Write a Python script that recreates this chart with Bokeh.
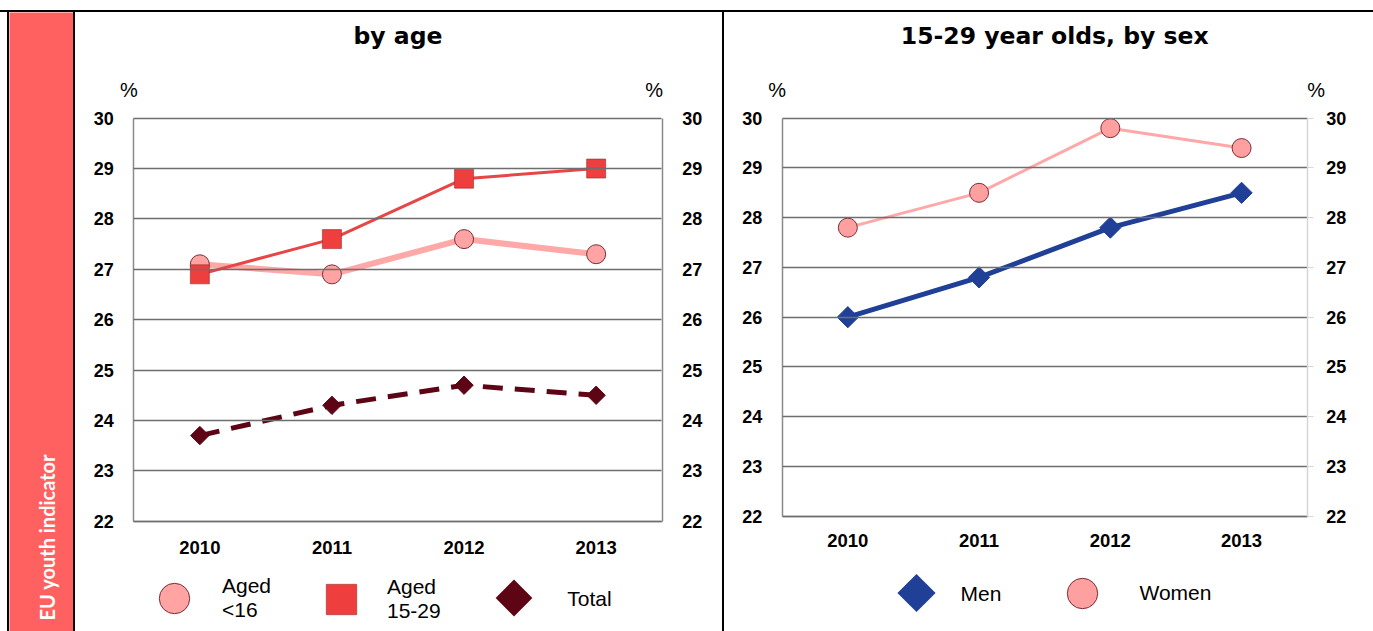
import math
from bokeh.plotting import figure
from bokeh.models import Range1d, LinearAxis, FixedTicker, Label, Legend, LegendItem, Spacer, Div
from bokeh.layouts import row, column
from bokeh.embed import file_html
from bokeh.resources import INLINE

# ---------------- data ----------------
years = ["2010", "2011", "2012", "2013"]
aged_under16 = [27.1, 26.9, 27.6, 27.3]
aged_15_29 = [26.9, 27.6, 28.8, 29.0]
total = [23.7, 24.3, 24.7, 24.5]
men = [26.0, 26.8, 27.8, 28.5]
women = [27.8, 28.5, 29.8, 29.4]
y_ticks = [22, 23, 24, 25, 26, 27, 28, 29, 30]
y_min, y_max = 22, 30
left_title = "by age"
right_title = "15-29 year olds, by sex"
side_text = "EU youth indicator"

xs = list(range(len(years)))
x_lo, x_hi = -0.5, len(years) - 0.5

TICK_FONT = "'Liberation Sans', Arial, sans-serif"
TEXT_FONT = "'Liberation Sans', Arial, sans-serif"
AXIS_GRAY = "#8a8a8a"
GRID_GRAY = "#6e6e6e"

PINK_LINE = "#FFA8A8"
PINK_FILL = "#FFA3A3"
RED = "#EE3E3E"
MAROON = "#5E0515"
BLUE = "#1F4096"
SIDE_RED = "#FF6060"

H = 619  # height of the panel row


def px_range(lo_val, hi_val, lo_px, hi_px, size_px):
    """Range whose lo_val/hi_val fall at lo_px/hi_px of a canvas size_px long."""
    scale = (hi_px - lo_px) / (hi_val - lo_val)
    return Range1d(lo_val - lo_px / scale, hi_val + (size_px - hi_px) / scale)


def px_to_data(box, cx, cy):
    """Canvas pixel (from top-left) -> data coordinates, for legend keys."""
    bl, br, bt, bb = box
    sx = (br - bl) / (x_hi - x_lo)
    sy = (bb - bt) / (y_max - y_min)
    return x_lo + (cx - bl) / sx, y_max - (cy - bt) / sy


def black_box(w, h):
    return Div(text="", width=w, height=h, margin=0, styles={"background-color": "black"})


def style_labels(ax, size):
    ax.major_label_text_font = TICK_FONT
    ax.major_label_text_font_style = "bold"
    ax.major_label_text_font_size = size
    ax.major_label_text_color = "black"
    ax.minor_tick_line_color = None


def make_panel(width, box, right_light):
    # box = (left px, right px, top px, bottom px) of the plotting box inside the canvas
    bl, br, bt, bb = box
    p = figure(width=width, height=H, output_backend="svg", toolbar_location=None,
               x_range=px_range(x_lo, x_hi, bl, br, width),
               y_range=px_range(y_min, y_max, H - bb, H - bt, H),
               min_border=0, background_fill_color="white", border_fill_color="white",
               outline_line_color=None)
    p.xgrid.visible = False
    p.ygrid.visible = False
    # x axis along y=22
    xa = p.xaxis[0]
    xa.fixed_location = y_min
    xa.bounds = (x_lo, x_hi)
    xa.ticker = FixedTicker(ticks=xs)
    xa.major_label_overrides = {i: y for i, y in zip(xs, years)}
    xa.major_tick_line_color = None
    xa.major_tick_out = 0
    xa.major_tick_in = 0
    xa.axis_line_color = AXIS_GRAY
    xa.axis_line_width = 1.5
    xa.major_label_standoff = 20 if not right_light else 18
    style_labels(xa, "18.5px")
    # left y axis; its inward ticks are the horizontal grid lines
    ya = p.yaxis[0]
    ya.fixed_location = x_lo
    ya.bounds = (y_min, y_max)
    ya.ticker = FixedTicker(ticks=y_ticks)
    ya.major_tick_out = 0
    ya.major_tick_in = int(round(br - bl))
    ya.major_tick_line_color = GRID_GRAY
    ya.major_tick_line_width = 1.4
    ya.axis_line_color = AXIS_GRAY
    ya.axis_line_width = 1.5
    ya.major_label_standoff = 20
    style_labels(ya, "18px")
    # right y axis
    ra = LinearAxis(ticker=FixedTicker(ticks=y_ticks), fixed_location=x_hi,
                    bounds=(y_min, y_max))
    if right_light:
        ra.axis_line_color = "#d6d6d6"
        ra.major_tick_line_color = "#d6d6d6"
        ra.major_tick_out = 6
        ra.major_tick_in = 0
        ra.major_label_standoff = 13
    else:
        ra.axis_line_color = AXIS_GRAY
        ra.major_tick_line_color = None
        ra.major_tick_out = 0
        ra.major_tick_in = 0
        ra.major_label_standoff = 20
    ra.axis_line_width = 1.5
    style_labels(ra, "18px")
    p.add_layout(ra, "right")
    return p


def pct_label(p, x, dx):
    p.add_layout(Label(x=x, y=y_max, x_offset=dx, y_offset=28, text="%",
                       text_align="center", text_baseline="middle",
                       text_font=TEXT_FONT, text_font_size="20px", text_color="black"))


def title_label(p, text, dx, dy):
    p.add_layout(Label(x=(x_lo + x_hi) / 2, y=y_max, x_offset=dx, y_offset=dy, text=text,
                       text_align="center", text_baseline="middle",
                       text_font="'DejaVu Sans', Verdana, sans-serif", text_font_style="bold",
                       text_font_size="23.5px", text_color="black"))


def add_legend(p, renderer, label, vx, vy, g, standoff):
    lg = Legend(items=[LegendItem(label=label, renderers=[renderer])], location=(vx, vy),
                orientation="horizontal", glyph_width=g, glyph_height=g,
                label_standoff=standoff, padding=0, margin=0, spacing=0,
                border_line_color=None, background_fill_alpha=0,
                label_text_font=TEXT_FONT, label_text_font_size="21px",
                label_text_color="black", label_text_line_height=1.1)
    p.add_layout(lg, "center")


def diamond_key(p, box, cx, cy, side_px, color, label, tx, height):
    """Legend entry with a rotated-square key (Bokeh legends do not rotate markers)."""
    kx, ky = px_to_data(box, cx, cy)
    p.scatter(x=[kx], y=[ky], marker="square", angle=math.pi / 4, size=side_px,
              fill_color=color, line_color=None)
    p.add_layout(Label(x=tx, y=height - cy, x_units="screen", y_units="screen", text=label,
                       text_align="left", text_baseline="middle", text_font=TEXT_FONT,
                       text_font_size="21px", text_color="black"))


# ---------------- left panel: by age ----------------
W1 = 647
BOX1 = (58.3, 586.7, 105.7, 508.7)
p1 = make_panel(W1, BOX1, right_light=False)
p1.line(xs, aged_under16, line_color=PINK_LINE, line_width=6)
r_u16 = p1.scatter(xs, aged_under16, marker="circle", size=19, fill_color=PINK_FILL,
                   line_color="#7B2D3A", line_width=1)
p1.line(xs, aged_15_29, line_color="#E84646", line_width=3)
r_1529 = p1.scatter(xs, aged_15_29, marker="square", size=19, fill_color=RED,
                    line_color="#9a2a2a", line_width=0.6)
p1.line(xs, total, line_color=MAROON, line_width=5, line_dash="20 12")
r_tot = p1.scatter(xs, total, marker="square", angle=math.pi / 4, size=13, fill_color=MAROON,
                   line_color=MAROON)

add_legend(p1, r_u16, "Aged\n<16", 61, -4.5, 76, 10)
add_legend(p1, r_1529, "Aged\n15-29", 228, -6, 76, 8)
diamond_key(p1, BOX1, 438.5, 585.5, 26, MAROON, "Total", 491.7, H)

pct_label(p1, x_lo, -5)
pct_label(p1, x_hi, -8)
title_label(p1, left_title, 0, 82)

# ---------------- right panel: 15-29 by sex ----------------
W2 = 649
BOX2 = (57.7, 582.7, 105.7, 503.7)
p2 = make_panel(W2, BOX2, right_light=True)
p2.line(xs, women, line_color=PINK_LINE, line_width=3)
r_wom = p2.scatter(xs, women, marker="circle", size=19, fill_color="#FFA0A0",
                   line_color="#7B2D3A", line_width=1)
p2.line(xs, men, line_color=BLUE, line_width=5)
r_men = p2.scatter(xs, men, marker="square", angle=math.pi / 4, size=15, fill_color=BLUE,
                   line_color=BLUE)

diamond_key(p2, BOX2, 192, 580.5, 27, BLUE, "Men", 236, H)
add_legend(p2, r_wom, "Women", 319.5, 0.5, 76, 20)

pct_label(p2, x_lo, -5)
pct_label(p2, x_hi, 9)
title_label(p2, right_title, 10, 82)

# ---------------- sidebar ----------------
side = figure(width=64, height=H, output_backend="svg", toolbar_location=None,
              x_axis_type=None, y_axis_type=None, min_border=0,
              background_fill_color=SIDE_RED, border_fill_color=SIDE_RED,
              outline_line_color=None, x_range=Range1d(0, 1), y_range=Range1d(0, 1))
side.add_layout(Label(x=37.7, y=11, x_units="screen", y_units="screen", text=side_text,
                      angle=math.pi / 2, text_align="left", text_baseline="alphabetic",
                      text_font="Lato, 'Open Sans', sans-serif", text_font_style="bold",
                      text_font_size="20px", text_color="white"))

body = row(Spacer(width=7, height=H, margin=0), black_box(2, H), side, black_box(2, H), p1,
           black_box(2, H), p2)
page = column(Spacer(width=1373, height=10, margin=0), black_box(1373, 2), body)

open("out.html", "w").write(file_html(page, INLINE))
